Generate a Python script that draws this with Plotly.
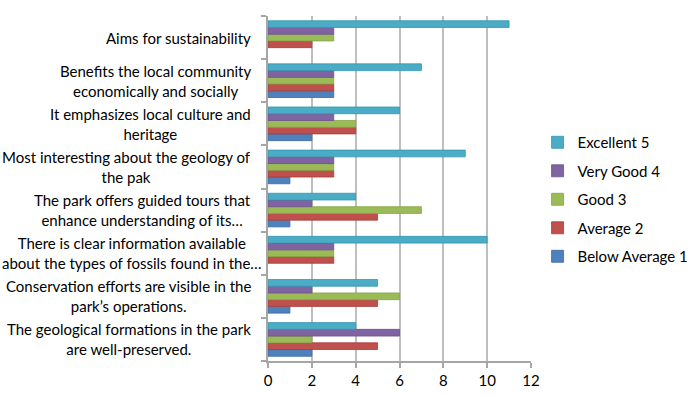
import plotly.graph_objects as go

categories = [
    "The geological formations in the park<br>are well-preserved.",
    "Conservation efforts are visible in the<br>park’s operations.",
    "There is clear information available<br>about the types of fossils found in the…",
    "The park offers guided tours that<br>enhance understanding of its…",
    "Most interesting about the geology of<br>the pak",
    "It emphasizes local culture and<br>heritage",
    "Benefits the local community<br>economically and socially",
    "Aims for sustainability",
]

below_average_1 = [2, 1, 0, 1, 1, 2, 3, 0]
average_2 = [5, 5, 3, 5, 3, 4, 3, 2]
good_3 = [2, 6, 3, 7, 3, 4, 3, 3]
very_good_4 = [6, 2, 3, 2, 3, 3, 3, 3]
excellent_5 = [4, 5, 10, 4, 9, 6, 7, 11]

series = [
    ("Below Average 1", below_average_1, "#4F81BD", "#3A6BA5", 5),
    ("Average 2", average_2, "#C0504D", "#A33E3B", 4),
    ("Good 3", good_3, "#9BBB59", "#86A544", 3),
    ("Very Good 4", very_good_4, "#8064A2", "#6A5089", 2),
    ("Excellent 5", excellent_5, "#4BACC6", "#3596B0", 1),
]

x_ticks = [0, 2, 4, 6, 8, 10, 12]

fig = go.Figure()
for name, vals, col, edge, rank in series:
    fig.add_trace(go.Bar(
        y=categories, x=vals, name=name, orientation="h",
        marker=dict(color=col, line=dict(color=edge,
                                         width=[0.8 if v > 0 else 0 for v in vals])),
        legendgroup=name, legendrank=rank,
    ))

FONT = "Lato, Carlito, Calibri, sans-serif"

fig.update_layout(
    width=700, height=398,
    margin=dict(l=268, r=169, t=16, b=37, autoexpand=False),
    paper_bgcolor="white", plot_bgcolor="white",
    barmode="group", bargap=0.22, bargroupgap=0,
    font=dict(family=FONT, size=15, color="black"),
    showlegend=True,
    legend=dict(
        x=1.025, xanchor="left", y=0.468, yanchor="middle",
        traceorder="grouped", tracegroupgap=6,
        font=dict(size=15, color="black"),
        itemwidth=30,
    ),
    xaxis=dict(
        range=[0, 12], tickvals=x_ticks, showgrid=True,
        gridcolor="#BFBFBF", gridwidth=1.5,
        showline=True, linecolor="#A6A6A6", linewidth=1.5,
        ticks="outside", ticklen=5, tickcolor="#A6A6A6", tickwidth=1.5,
        zeroline=False, tickfont=dict(size=15),
    ),
    yaxis=dict(
        categoryorder="array", categoryarray=categories,
        showticklabels=False,
        showline=True, linecolor="#A6A6A6", linewidth=1.5,
        ticks="outside", tickson="boundaries", ticklen=5,
        tickcolor="#A6A6A6", tickwidth=1.5,
        showgrid=False, zeroline=False,
    ),
)

for c in categories:
    shift = -4 if "fossils" in c else -15
    fig.add_annotation(
        x=0, xref="paper", y=c, yref="y", text=c, showarrow=False,
        xanchor="right", yanchor="middle", align="center", xshift=shift,
        font=dict(family=FONT, size=15, color="black"),
    )

fig.write_html(
    "out.html",
    config={"displayModeBar": False},
    post_script="document.body.style.margin='0';document.body.style.padding='0';",
)
